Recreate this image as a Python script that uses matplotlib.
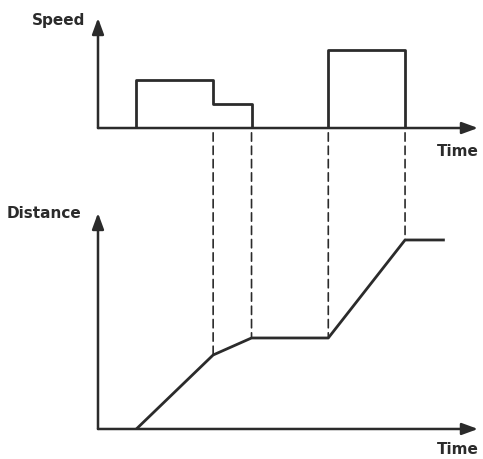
import matplotlib.pyplot as plt
from matplotlib.patches import ConnectionPatch

# time points (same for both plots)
t_steps = [0, 1, 3, 4, 6, 8, 9]
# speed during each interval (step function, value holds until next time)
speed = [0, 2, 1, 0, 3.25, 0, 0]
# distance at each time point
distance = [0, 0, 7.4, 9.1, 9.1, 18.9, 18.9]
# times where the dashed guide lines are drawn
guide_idx = [2, 3, 4, 5]

ink = '#2b2b2b'

fig = plt.figure(figsize=(4.83, 4.59), dpi=100)
ax1 = fig.add_axes([0.2029, 0.7211, 0.7867, 0.2397])
ax2 = fig.add_axes([0.2029, 0.0654, 0.7867, 0.4706])

for ax in (ax1, ax2):
    ax.set_xlim(0, 9.9)
    for s in ax.spines.values():
        s.set_visible(False)
    ax.set_xticks([])
    ax.set_yticks([])
    ax.patch.set_alpha(0)
    # axes drawn as arrows
    arrow = dict(arrowstyle='-|>,head_length=0.6,head_width=0.22', lw=1.8, color=ink,
                 mutation_scale=16, shrinkA=0, shrinkB=0)
    ax.annotate('', xy=(1, 0), xytext=(0, 0), xycoords='axes fraction', arrowprops=arrow)
    ax.annotate('', xy=(0, 1), xytext=(0, 0), xycoords='axes fraction', arrowprops=arrow)

ax1.set_ylim(0, 4.58)
ax2.set_ylim(0, 21.6)

# speed step function
ax1.step(t_steps[:6], speed[:6], where='post', color=ink, lw=2)
ax2.plot(t_steps[1:], distance[1:], color=ink, lw=2)

for i in guide_idx:
    con = ConnectionPatch(xyA=(t_steps[i], -0.2), coordsA=ax1.transData,
                          xyB=(t_steps[i], distance[i]), coordsB=ax2.transData,
                          color=ink, lw=1.2, linestyle=(0, (5, 3)))
    fig.add_artist(con)

font = dict(fontsize=11, fontweight='bold', color=ink)
fig.text(85 / 483, 1 - 20 / 459, 'Speed', ha='right', va='center', **font)
fig.text(479 / 483, 1 - 152 / 459, 'Time', ha='right', va='center', **font)
fig.text(81 / 483, 1 - 213 / 459, 'Distance', ha='right', va='center', **font)
fig.text(479 / 483, 1 - 450 / 459, 'Time', ha='right', va='center', **font)

fig.savefig('out.png', dpi=100)
